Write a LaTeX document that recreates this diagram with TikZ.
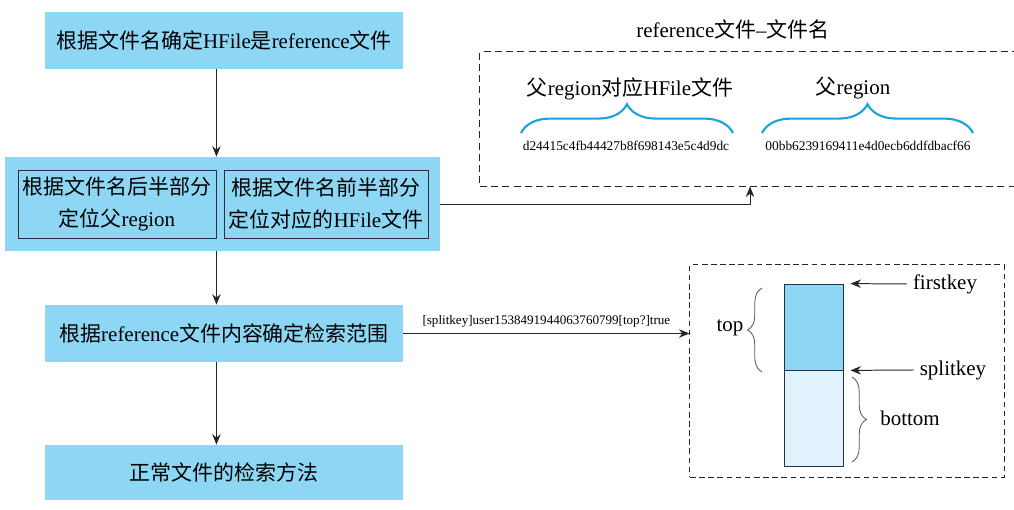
\documentclass[tikz,border=0pt]{standalone}
\usepackage{fontspec}
\setmainfont{Liberation Serif}
\newfontfamily\cjk{Noto Sans CJK SC}
\usetikzlibrary{arrows.meta,decorations.pathreplacing}

\definecolor{boxblue}{RGB}{141,214,244}
\definecolor{paleblue}{RGB}{224,243,252}
\definecolor{braceblue}{RGB}{28,162,218}
\definecolor{edgedark}{RGB}{40,48,64}
\newcommand{\zh}[1]{{\cjk #1}}

\begin{document}
\begin{tikzpicture}[x=0.025cm, y=-0.025cm,
  stepbox/.style={rectangle, fill=boxblue, minimum width=8.95cm, minimum height=1.425cm, inner sep=0pt, font=\fontsize{14.9}{18}\selectfont},
  halfbox/.style={rectangle, draw=edgedark, line width=0.6pt, minimum height=1.7cm, align=center, inner sep=1pt, font=\fontsize{14.9}{22.7}\selectfont},
  arrow/.style={-{Stealth[length=7.5pt,width=6pt]}, line width=0.7pt, draw=black!85},
  dashbox/.style={rectangle, draw=black!85, line width=0.7pt, dash pattern=on 5pt off 3pt},
  label/.style={font=\fontsize{14.9}{18}\selectfont, inner sep=1pt},
  hash/.style={font=\fontsize{9.5}{11}\selectfont, inner sep=1pt},
  bluebrace/.style={decorate, decoration={brace, amplitude=0.72cm}, draw=braceblue, line width=1.5pt},
  graybrace/.style={decorate, decoration={brace, amplitude=0.36cm}, draw=black!65, line width=0.6pt}
]
\useasboundingbox (0,0) rectangle (1014,510);

% main flow
\node[stepbox] (find) at (224,40.5) {\zh{根据文件名确定}HFile\zh{是}reference\zh{文件}};
\node[stepbox, minimum width=10.875cm, minimum height=2.35cm] (locate) at (222.5,204) {};
\node[halfbox, minimum width=4.95cm] (parent) at (117,204) {\zh{根据文件名后半部分}\\\zh{定位父}region};
\node[halfbox, minimum width=5.1cm] (hfile) at (326,204) {\zh{根据文件名前半部分}\\\zh{定位对应的}HFile\zh{文件}};
\node[stepbox] (range) at (224,333.5) {\zh{根据}reference\zh{文件内容确定检索范围}};
\node[stepbox, minimum height=1.375cm] (normal) at (224,472.5) {\zh{正常文件的检索方法}};

\draw[arrow] (find.south -| parent.east) -- (locate.north -| parent.east);
\draw[arrow] (locate.south -| parent.east) -- (range.north -| parent.east);
\draw[arrow] (range.south -| parent.east) -- (normal.north -| parent.east);

% reference file name
\node[dashbox, minimum width=13.5cm, minimum height=3.35cm] (namebox) at (750,119) {};
\node[label] (nametitle) at (733,29) {reference\zh{文件}--\zh{文件名}};
\node[label] (hflabel) at (630,89) {\zh{父}region\zh{对应}HFile\zh{文件}};
\node[label] (reglabel) at (853,88) {\zh{父}region};
\node[hash] (hashhf) at (626,146) {d24415c4fb44427b8f698143e5c4d9dc};
\node[hash] (hashreg) at (868,146) {00bb6239169411e4d0ecb6ddfdbacf66};
\draw[bluebrace] (521,133) -- (733,133);
\draw[bluebrace] (762,133) -- (973,133);

\draw[arrow] (locate.east) -- (locate.east -| namebox.south) -- (namebox.south);

% search range
\node[dashbox, dash pattern=on 4pt off 2.5pt, minimum width=7.85cm, minimum height=5.3cm] (rangebox) at (847,371) {};
\node[rectangle, draw=edgedark, line width=0.6pt, fill=boxblue, minimum width=1.475cm, minimum height=2.15cm, inner sep=0pt] (topseg) at (813.5,327) {};
\node[rectangle, draw=edgedark, line width=0.6pt, fill=paleblue, minimum width=1.475cm, minimum height=2.4cm, inner sep=0pt] (botseg) at (813.5,418) {};
\draw[line width=0.6pt, draw=edgedark] (topseg.south west) -- (topseg.south east);

\node[label, inner sep=4pt] (firstkey) at (945,284) {firstkey};
\node[label, inner sep=4pt] (splitkey) at (953,370) {splitkey};
\draw[arrow, shorten >=5pt] (firstkey.west) -- (topseg.north east);
\draw[arrow, shorten >=5pt] (splitkey.west) -- (topseg.south east);

\draw[graybrace] (762,372) -- (762,288);
\draw[graybrace] (852,377) -- (852,462);
\node[label] (toplabel) at (730,328) {top};
\node[label] (botlabel) at (910,418) {bottom};

\draw[arrow] (range.east) -- (range.east -| rangebox.west)
  node[midway, above=3pt, hash, font=\fontsize{9.3}{11}\selectfont] (splitinfo) {[splitkey]user1538491944063760799[top?]true};

\end{tikzpicture}
\end{document}
